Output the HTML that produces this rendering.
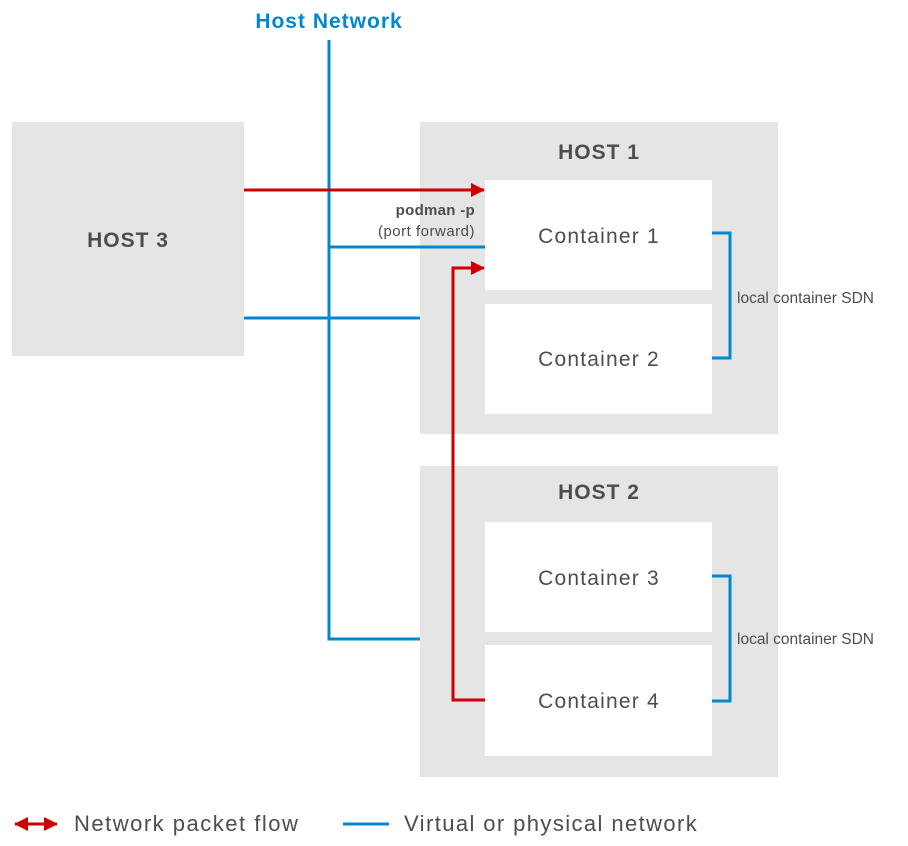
<!DOCTYPE html>
<html><head><meta charset="utf-8"><style>
html,body{margin:0;padding:0;background:#fff;}
svg{display:block;}
text{font-family:"Liberation Sans",sans-serif;fill:#4d4d4d;}
</style></head><body>
<svg width="908" height="846" viewBox="0 0 908 846" xmlns="http://www.w3.org/2000/svg">
<defs>
<marker id="ar" markerWidth="16" markerHeight="16" refX="13" refY="7" orient="auto" markerUnits="userSpaceOnUse">
<path d="M0,0 L14,7 L0,14 z" fill="#cc0000"/></marker>
<marker id="al" markerWidth="16" markerHeight="16" refX="1" refY="7" orient="auto" markerUnits="userSpaceOnUse">
<path d="M14,0 L0,7 L14,14 z" fill="#cc0000"/></marker>
</defs>
<rect x="12" y="122" width="232" height="234" fill="#e5e5e5"/>
<rect x="420" y="122" width="358" height="312" fill="#e5e5e5"/>
<rect x="420" y="466" width="358" height="311" fill="#e5e5e5"/>
<rect x="485" y="180" width="227" height="110" fill="#fff"/>
<rect x="485" y="304" width="227" height="110" fill="#fff"/>
<rect x="485" y="522" width="227" height="110" fill="#fff"/>
<rect x="485" y="645" width="227" height="111" fill="#fff"/>
<g stroke="#0088ce" stroke-width="3" fill="none">
<path d="M329,40 V639 H420"/>
<path d="M329,247 H485"/>
<path d="M244,318 H420"/>
<path d="M712,233 H730 V358 H712"/>
<path d="M712,576 H730 V701 H712"/>
<path d="M343,824 H389"/>
</g>
<g stroke="#cc0000" stroke-width="3" fill="none">
<path d="M244,190 H484" marker-end="url(#ar)"/>
<path d="M485,700 H453 V268 H484" marker-end="url(#ar)"/>
<path d="M15,824 H57" marker-end="url(#ar)" marker-start="url(#al)"/>
</g>
<text x="329" y="28" text-anchor="middle" font-size="21" font-weight="bold" letter-spacing="1" style="fill:#0088ce">Host Network</text>
<text x="128" y="247" text-anchor="middle" font-size="21" font-weight="bold" letter-spacing="1">HOST 3</text>
<text x="599" y="159" text-anchor="middle" font-size="21" font-weight="bold" letter-spacing="1">HOST 1</text>
<text x="599" y="499" text-anchor="middle" font-size="21" font-weight="bold" letter-spacing="1">HOST 2</text>
<text x="599" y="243" text-anchor="middle" font-size="21" letter-spacing="1.2">Container 1</text>
<text x="599" y="366" text-anchor="middle" font-size="21" letter-spacing="1.2">Container 2</text>
<text x="599" y="585" text-anchor="middle" font-size="21" letter-spacing="1.2">Container 3</text>
<text x="599" y="708" text-anchor="middle" font-size="21" letter-spacing="1.2">Container 4</text>
<text x="475" y="215" text-anchor="end" font-size="15" font-weight="bold" letter-spacing="0.3">podman -p</text>
<text x="475" y="236" text-anchor="end" font-size="15" letter-spacing="0.5">(port forward)</text>
<text x="737" y="303" font-size="15.5" letter-spacing="0">local container SDN</text>
<text x="737" y="644" font-size="15.5" letter-spacing="0">local container SDN</text>
<text x="74" y="831" font-size="22" letter-spacing="1.5">Network packet flow</text>
<text x="404" y="831" font-size="22" letter-spacing="1.4">Virtual or physical network</text>
</svg>
</body></html>
